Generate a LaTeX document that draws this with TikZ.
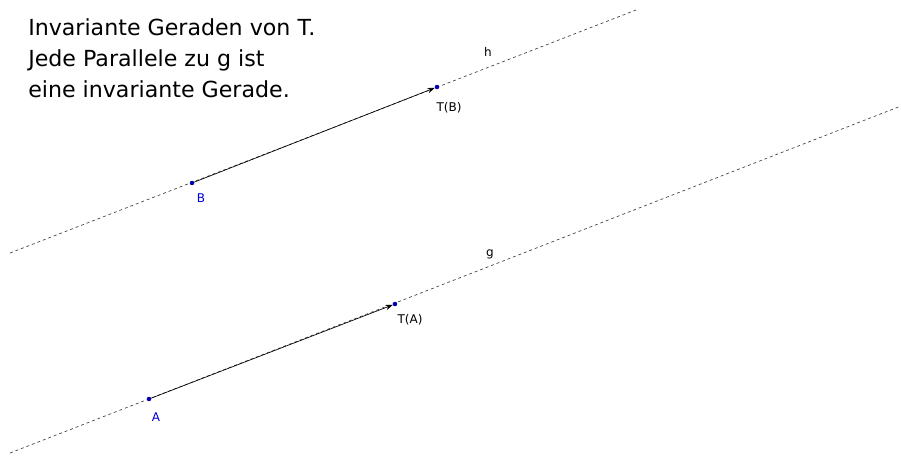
\documentclass[tikz,border=0pt]{standalone}
\usepackage{fontspec}
\setmainfont{DejaVu Sans}
\usetikzlibrary{arrows.meta}
\begin{document}
\begin{tikzpicture}[x=0.75pt,y=-0.75pt,
  gline/.style={draw=black!75,dash pattern=on 2.2pt off 2.2pt,line width=0.5pt},
  vec/.style={draw=black,line width=0.5pt,shorten <=-1.6pt,-{Stealth[length=5.5pt,width=4pt]}},
  pt/.style={circle,fill=blue!70!black,inner sep=0pt,minimum size=3.2pt},
  lbl/.style={font=\fontsize{9}{10}\selectfont,inner sep=0pt},
  blbl/.style={lbl,text=blue!85!black},
  title/.style={font=\fontsize{16.6}{18}\selectfont,anchor=base west,inner sep=0pt}]
\useasboundingbox (0,0) rectangle (901,455);
% line ends
\coordinate (h1) at (10,253);
\coordinate (h2) at (636,10);
\coordinate (g1) at (10,453);
\coordinate (g2) at (901,106);
\draw[gline] (h1) -- (h2);
\draw[gline] (g1) -- (g2);
% points
\node[pt] (B) at (192,183) {};
\node[pt] (TB) at (437,87) {};
\node[pt] (A) at (149,399) {};
\node[pt] (TA) at (395,304) {};
\draw[vec] (B) -- (TB);
\draw[vec] (A) -- (TA);
\node[pt] at (B) {};
\node[pt] at (A) {};
\node[pt] at (TB) {};
\node[pt] at (TA) {};
% labels
\node[blbl] (lB) at (201,198) {B};
\node[blbl] (lA) at (156,417) {A};
\node[lbl] (lTB) at (449,108) {T(B)};
\node[lbl] (lTA) at (410,320) {T(A)};
\node[lbl] (lh) at (488,52) {h};
\node[lbl] (lg) at (490,254) {g};
% text
\node[title] (t1) at (28,35) {Invariante Geraden von T.};
\node[title] (t2) at (28,66) {Jede Parallele zu g ist};
\node[title] (t3) at (28,97) {eine invariante Gerade.};
\end{tikzpicture}
\end{document}
